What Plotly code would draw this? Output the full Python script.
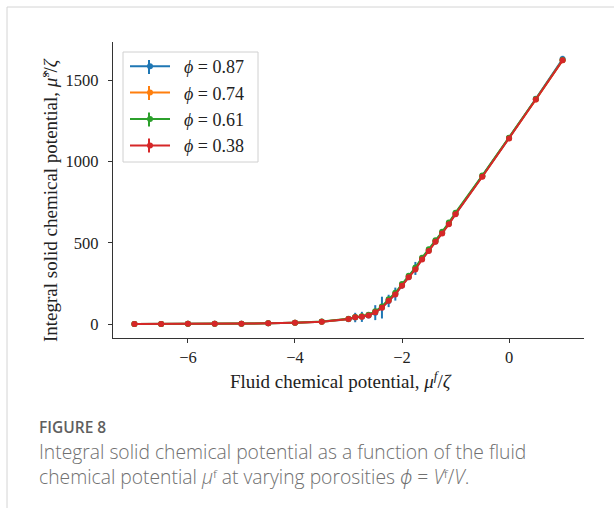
import plotly.graph_objects as go

# ---- data ----
mu_f = [-7.0, -6.5, -6.0, -5.5, -5.0, -4.5, -4.0, -3.5, -3.0, -2.875, -2.75, -2.625,
        -2.5, -2.375, -2.25, -2.125, -2.0, -1.875, -1.75, -1.625, -1.5, -1.375, -1.25,
        -1.125, -1.0, -0.5, 0.0, 0.5, 1.0]

mu_s_087 = [0, 0, 1, 1, 2, 4, 8, 14, 30, 40, 44, 52, 70, 101, 142, 184, 238, 290, 342,
            400, 452, 509, 560, 618, 678, 909, 1145, 1386, 1630]
err_087 = [0, 0, 0, 0, 0, 1, 1, 2, 6, 29, 31, 10, 46, 67, 38, 40, 20, 20, 40, 15, 15,
           20, 15, 10, 18, 8, 8, 10, 20]

mu_s_074 = [0, 0, 1, 1, 2, 4, 8, 14, 31, 42, 46, 55, 75, 104, 147, 187, 241, 292, 341,
            402, 454, 511, 562, 619, 680, 909, 1143, 1382, 1623]
err_074 = [0, 0, 0, 0, 0, 0, 1, 1, 2, 3, 3, 3, 4, 4, 4, 4, 4, 4, 4, 4, 4, 4, 4, 4, 4,
           4, 4, 4, 4]

mu_s_061 = [0, 0, 1, 1, 2, 4, 8, 15, 32, 43, 48, 57, 78, 108, 152, 192, 246, 297, 347,
            408, 460, 516, 567, 624, 685, 913, 1146, 1384, 1624]
err_061 = [0, 0, 0, 0, 0, 0, 1, 1, 2, 3, 3, 3, 3, 3, 3, 3, 3, 3, 3, 3, 3, 3, 3, 3, 3,
           3, 3, 3, 3]

mu_s_038 = [0, 0, 1, 1, 2, 4, 8, 14, 31, 41, 45, 53, 72, 100, 143, 182, 236, 287, 336,
            397, 449, 506, 557, 614, 676, 906, 1141, 1381, 1622]
err_038 = [0, 0, 0, 0, 0, 0, 1, 1, 2, 2, 2, 2, 3, 3, 3, 3, 3, 3, 3, 3, 3, 3, 3, 3, 3,
           3, 3, 3, 3]

series_labels = ["0.87", "0.74", "0.61", "0.38"]
series_values = [mu_s_087, mu_s_074, mu_s_061, mu_s_038]
series_errors = [err_087, err_074, err_061, err_038]
series_colors = ["#1f77b4", "#ff7f0e", "#2ca02c", "#d62728"]

x_ticks = [-6, -4, -2, 0]
y_ticks = [0, 500, 1000, 1500]

SERIF = "Liberation Serif, Times New Roman, serif"
SANS = "Open Sans, Noto Sans, sans-serif"

fig = go.Figure()
for lab, ys, es, col in zip(series_labels, series_values, series_errors, series_colors):
    fig.add_trace(go.Scatter(
        x=mu_f, y=ys,
        mode="lines+markers",
        name=f"&nbsp;&nbsp;<i>ϕ</i>&nbsp;=&nbsp;{lab}",
        line=dict(color=col, width=2),
        marker=dict(color=col, size=6),
        error_y=dict(type="data", array=es, visible=True, color=col,
                     thickness=2, width=0),
    ))

W, H = 614, 508
L, R, T, B = 113, 584, 42, 338
pw, ph = R - L, B - T


def px(xp):
    return (xp - L) / pw


def py(yp):
    return (B - yp) / ph


fig.update_layout(
    width=W, height=H,
    margin=dict(l=L, r=W - R, t=T, b=H - B, pad=0),
    paper_bgcolor="white", plot_bgcolor="white",
    showlegend=True,
    legend=dict(
        x=px(125), y=py(48), xanchor="left", yanchor="top",
        bgcolor="rgba(0,0,0,0)", borderwidth=0,
        font=dict(family=SERIF, size=18, color="#222222"),
        itemwidth=40, tracegroupgap=0,
    ),
    font=dict(family=SERIF, size=16, color="#222222"),
)

fig.update_xaxes(
    range=[-7.4, 1.4], tickvals=x_ticks, ticks="outside", ticklen=4, tickwidth=1.2,
    tickcolor="#333333", showline=True, linecolor="#333333", linewidth=1.4,
    showgrid=False, zeroline=False, mirror=False,
    tickfont=dict(family=SERIF, size=16.5, color="#222222"),
)
fig.update_yaxes(
    range=[-86, 1735], tickvals=y_ticks, ticks="outside", ticklen=4, tickwidth=1.2,
    tickcolor="#333333", showline=True, linecolor="#333333", linewidth=1.4,
    showgrid=False, zeroline=False, mirror=False, ticklabelstandoff=6,
    tickfont=dict(family=SERIF, size=16.5, color="#222222"),
)

# legend frame drawn as a shape behind the transparent legend
fig.add_shape(type="rect", xref="paper", yref="paper", x0=px(123), x1=px(258),
              y0=py(162), y1=py(52),
              fillcolor="white", line=dict(color="#d0d0d0", width=1), layer="above")
# vertical error-bar strokes of the legend handles
legend_rows = [67, 93, 119.5, 145.5]
for yy, col in zip(legend_rows, series_colors):
    fig.add_shape(type="line", xref="paper", yref="paper", x0=px(149), x1=px(149),
                  y0=py(yy - 7), y1=py(yy + 7), line=dict(color=col, width=2),
                  layer="above")

# axis titles
fig.add_annotation(
    text="Integral solid chemical potential, <i>μ̂</i><sup>s</sup>/<i>ζ</i>",
    xref="paper", yref="paper", x=px(49), y=py(200), xanchor="center", yanchor="middle",
    textangle=-90, showarrow=False, font=dict(family=SERIF, size=19, color="#222222"),
)
fig.add_annotation(
    text="Fluid chemical potential, <i>μ</i><sup><i>f</i></sup>/<i>ζ</i>",
    xref="paper", yref="paper", x=px(341), y=py(380), xanchor="center", yanchor="middle",
    showarrow=False, font=dict(family=SERIF, size=19, color="#222222"),
)

# caption
fig.add_annotation(
    text="FIGURE 8", xref="paper", yref="paper", x=px(37), y=py(427),
    xanchor="left", yanchor="middle", showarrow=False,
    font=dict(family=SANS, size=15.5, color="#5f5f5f", weight=600),
)
fig.add_annotation(
    text=("Integral solid chemical potential as a function of the fluid<br>"
          "chemical potential <i>μ</i>ᶠ at varying porosities "
          "<i>ϕ</i> = <i>V</i>ᶠ/<i>V</i>."),
    xref="paper", yref="paper", x=px(37), y=py(464),
    xanchor="left", yanchor="middle", align="left", showarrow=False,
    font=dict(family=SANS, size=19.3, color="#707070", weight=300),
)

# card border
fig.add_shape(type="line", xref="paper", yref="paper",
              x0=px(7), x1=px(W + 5), y0=py(7), y1=py(7),
              line=dict(color="#d4d4d4", width=1))
fig.add_shape(type="line", xref="paper", yref="paper",
              x0=px(7), x1=px(7), y0=py(7), y1=py(H + 5),
              line=dict(color="#d4d4d4", width=1))

fig.write_html("out.html", config={"displayModeBar": False},
               post_script="document.body.style.margin='0';")
